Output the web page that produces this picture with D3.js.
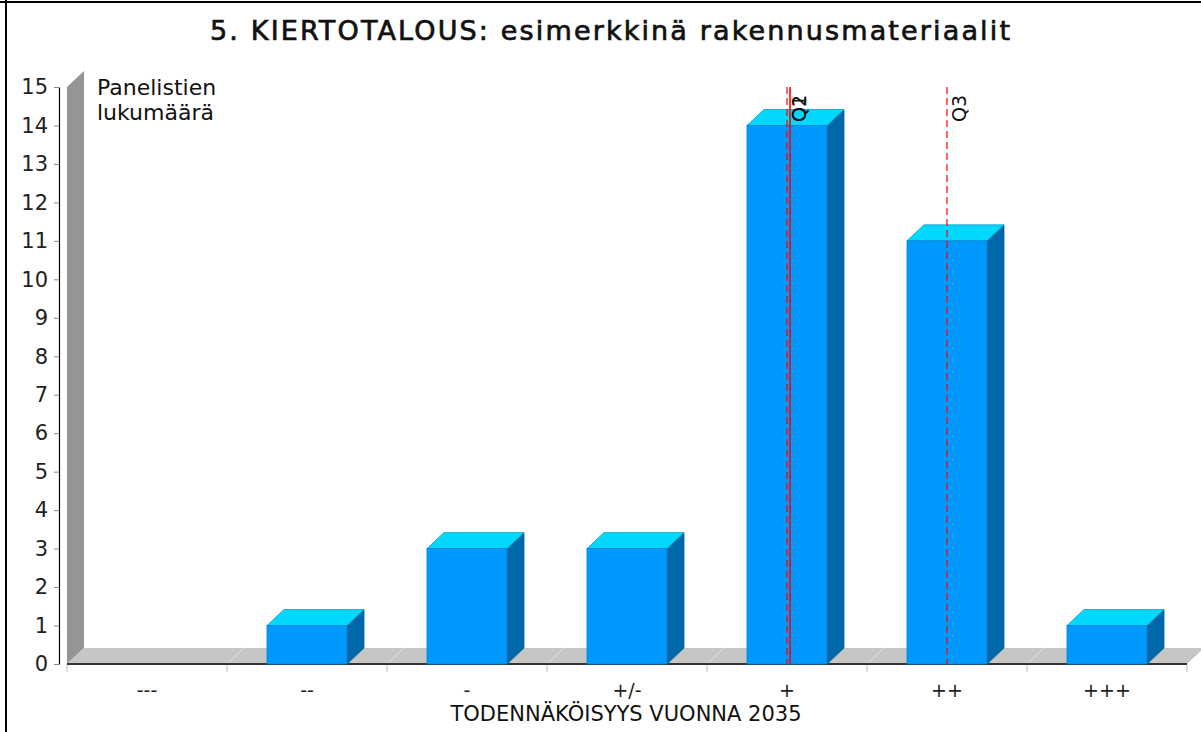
<!DOCTYPE html>
<html>
<head>
<meta charset="utf-8">
<script src="https://cdn.jsdelivr.net/npm/d3@7"></script>
<style>
  html, body { margin: 0; padding: 0; background: #fff; }
  svg { display: block; font-family: "DejaVu Sans", sans-serif; }
</style>
</head>
<body>
<svg id="chart" width="1201" height="732"></svg>
<script>
// Answer counts per likelihood class
const categories = ["---", "--", "-", "+/-", "+", "++", "+++"];
const counts = [0, 1, 3, 3, 14, 11, 1];
const yTicks = d3.range(0, 16);
// Quartile markers, positioned on the category axis
const quartiles = [
  { label: "Q1", category: "+", dashed: true, shift: 0 },
  { label: "Q2", category: "+", dashed: false, shift: 3 },
  { label: "Q3", category: "++", dashed: true, shift: 0 }
];
const titleText = "5. KIERTOTALOUS: esimerkkinä rakennusmateriaalit";
const yLabelLines = ["Panelistien", "lukumäärä"];
const xTitle = "TODENNÄKÖISYYS VUONNA 2035";

const W = 1201, H = 732;
const plotL = 67, plotR = 1187, plotT = 87, plotB = 664;
const depthX = 17, depthY = 16;

const svg = d3.select("#chart");

// frame lines along the top and left edges
svg.append("line").attr("x1", 0).attr("x2", W).attr("y1", 2).attr("y2", 2)
  .attr("stroke", "#000").attr("stroke-width", 2);
svg.append("line").attr("x1", 6).attr("x2", 6).attr("y1", 0).attr("y2", H)
  .attr("stroke", "#000").attr("stroke-width", 2);

const x = d3.scaleBand().domain(categories).range([plotL, plotR])
  .paddingInner(0.5).paddingOuter(0.25);
const y = d3.scaleLinear().domain([0, 15]).range([plotB, plotT]);

// 3D wall on the left
svg.append("polygon")
  .attr("points", [[plotL, plotB], [plotL, plotT], [plotL + depthX, plotT - depthY], [plotL + depthX, plotB - depthY]].join(" "))
  .attr("fill", "#959595");

// 3D floor
svg.append("polygon")
  .attr("points", [[plotL, plotB], [plotL + depthX, plotB - depthY], [plotR + depthX, plotB - depthY], [plotR, plotB]].join(" "))
  .attr("fill", "#c6c6c6");

// category boundaries drawn across the floor
const step = x.step();
const bounds = d3.range(categories.length + 1).map(i => plotL + i * step);
svg.append("g").selectAll("line").data(bounds.slice(1, -1)).join("line")
  .attr("x1", d => d).attr("y1", plotB)
  .attr("x2", d => d + depthX).attr("y2", plotB - depthY)
  .attr("stroke", "#e4e4e4").attr("stroke-width", 1);

// floor front edge
svg.append("line").attr("x1", plotL).attr("x2", plotR).attr("y1", plotB).attr("y2", plotB)
  .attr("stroke", "#333").attr("stroke-width", 2);

// x tick marks below the floor
svg.append("g").selectAll("line").data(bounds).join("line")
  .attr("x1", d => d).attr("x2", d => d).attr("y1", plotB + 1).attr("y2", plotB + 8)
  .attr("stroke", "#bbb").attr("stroke-width", 1);

// bars
const bars = svg.append("g").selectAll("g").data(categories.map((c, i) => ({ c, v: counts[i] })))
  .join("g").filter(d => d.v > 0);
bars.append("polygon") // side face
  .attr("points", d => {
    const x1 = x(d.c) + x.bandwidth(), yt = y(d.v);
    return [[x1, plotB], [x1, yt], [x1 + depthX, yt - depthY], [x1 + depthX, plotB - depthY]].join(" ");
  })
  .attr("fill", "#0068aa").attr("stroke", "#005c96").attr("stroke-width", 0.8);
bars.append("polygon") // top face
  .attr("points", d => {
    const x0 = x(d.c), x1 = x0 + x.bandwidth(), yt = y(d.v);
    return [[x0, yt], [x0 + depthX, yt - depthY], [x1 + depthX, yt - depthY], [x1, yt]].join(" ");
  })
  .attr("fill", "#00d8ff").attr("stroke", "#0a9cc8").attr("stroke-width", 0.8);
bars.append("rect") // front face
  .attr("x", d => x(d.c)).attr("y", d => y(d.v))
  .attr("width", x.bandwidth()).attr("height", d => plotB - y(d.v))
  .attr("fill", "#0099ff").attr("stroke", "#0080d0").attr("stroke-width", 0.8);

// y axis
const yAxis = d3.axisLeft(y).tickValues(yTicks).tickSize(5).tickSizeOuter(0).tickPadding(6);
const gy = svg.append("g").attr("transform", "translate(59,0)").call(yAxis);
gy.select(".domain").attr("stroke", "#000").attr("stroke-width", 1.2);
gy.selectAll(".tick line").attr("stroke", "#888");
gy.selectAll(".tick text").attr("font-size", 21).attr("fill", "#222")
  .attr("font-family", "DejaVu Sans, sans-serif");

// x category labels
svg.append("g").selectAll("text").data(categories).join("text")
  .attr("x", d => x(d) + x.bandwidth() / 2).attr("y", 697)
  .attr("text-anchor", "middle").attr("font-size", 19).attr("fill", "#222")
  .text(d => d);

// quartile markers
const qg = svg.append("g").selectAll("g").data(quartiles).join("g");
qg.append("line")
  .attr("x1", d => x(d.category) + x.bandwidth() / 2 + d.shift)
  .attr("x2", d => x(d.category) + x.bandwidth() / 2 + d.shift)
  .attr("y1", plotT).attr("y2", plotB)
  .attr("stroke", "#ff0000").attr("stroke-width", d => d.dashed ? 1.2 : 1.6)
  .attr("stroke-dasharray", d => d.dashed ? "7,4" : null);
qg.append("text")
  .attr("transform", d => `translate(${x(d.category) + x.bandwidth() / 2 + 19},${plotT + 35}) rotate(-90)`)
  .attr("font-size", 19).attr("fill", "#111")
  .text(d => d.label);

// titles
svg.append("text").attr("x", 610).attr("y", 40).attr("text-anchor", "middle")
  .attr("font-size", 27).attr("fill", "#111")
  .attr("stroke", "#111").attr("stroke-width", 0.7)
  .attr("textLength", 800).attr("lengthAdjust", "spacing")
  .text(titleText);
svg.append("text").attr("x", 97).attr("y", 95).attr("font-size", 22).attr("fill", "#111")
  .selectAll("tspan").data(yLabelLines).join("tspan")
  .attr("x", 97).attr("dy", (d, i) => i ? 25 : 0).text(d => d);
svg.append("text").attr("x", 626).attr("y", 721).attr("text-anchor", "middle")
  .attr("font-size", 21).attr("fill", "#111").text(xTitle);
</script>
</body>
</html>
